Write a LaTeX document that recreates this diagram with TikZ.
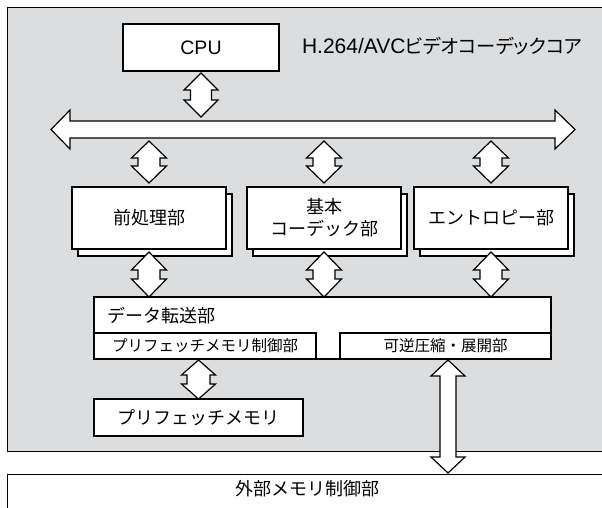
\documentclass[tikz,border=0pt]{standalone}
\usepackage{fontspec}
\setmainfont{Noto Sans CJK JP}
\newfontfamily\latinsans{Liberation Sans}
\newfontfamily\jpalt{Noto Sans CJK JP}[RawFeature=+palt]
\usetikzlibrary{shadows,calc}
\definecolor{panelgray}{RGB}{220,221,223}
\newcommand\vdarrow[6]{%
  \filldraw[arr] let \p1=(#1), \p2=(#2), \p3=(#3) in
   (\x1,\y2) -- (\x1+#5pt,\y2-#6pt) -- (\x1+#4pt,\y2-#6pt) -- (\x1+#4pt,\y3+#6pt)
   -- (\x1+#5pt,\y3+#6pt) -- (\x1,\y3) -- (\x1-#5pt,\y3+#6pt) -- (\x1-#4pt,\y3+#6pt)
   -- (\x1-#4pt,\y2-#6pt) -- (\x1-#5pt,\y2-#6pt) -- cycle;}
\begin{document}
\begin{tikzpicture}[x=1pt,y=-1pt,
  box/.style={draw=black, fill=white, line width=1.3pt, inner sep=0pt, outer sep=0pt,
    anchor=north west, align=center, font=\fontsize{18}{22}\selectfont},
  shadowbox/.style={box, copy shadow={shadow xshift=6pt, shadow yshift=-7pt}},
  subbox/.style={box, font=\fontsize{15.5}{18}\selectfont},
  arr/.style={draw=black, fill=white, line width=1.2pt, line join=miter},
  plain/.style={inner sep=0pt, outer sep=0pt, font=\fontsize{18}{22}\selectfont}
]
\useasboundingbox (0,0) rectangle (602,507);
% panel and external memory controller
\node[draw=black, fill=panelgray, line width=1.3pt, inner sep=0pt, anchor=north west,
  minimum width=620, minimum height=444] (panel) at (7,7) {};
\node[draw=black, fill=white, line width=1.3pt, inner sep=0pt, anchor=north west,
  minimum width=620, minimum height=60] (ext) at (7,474) {};
\node[plain] (extlabel) at (307,489) {外部メモリ制御部};
% CPU and title
\node[box, minimum width=156, minimum height=47, font=\latinsans\fontsize{19.5}{22}\selectfont] (cpu) at (123,24) {CPU};
\node[plain, anchor=base west] (title) at (302,53) {{\latinsans\fontsize{21}{22}\selectfont H.264/AVC}{\jpalt\fontsize{19.2}{22}\selectfont ビデオコーデックコア}};
% bus
\coordinate (busT) at (313,121);
\coordinate (busB) at (313,138);
\filldraw[arr] (51,129.5) -- (70,110) -- (70,121) -- (555,121) -- (555,110) -- (575,129.5)
  -- (555,149) -- (555,138) -- (70,138) -- (70,149) -- cycle;
% processing blocks
\node[shadowbox, minimum width=154, minimum height=62] (pre) at (72,187) {前処理部};
\node[shadowbox, minimum width=154, minimum height=62] (codec) at (247,187) {基本\\コーデック部};
\node[shadowbox, minimum width=154, minimum height=62] (ent) at (414,187) {エントロピー部};
% data transfer
\node[box, minimum width=457, minimum height=62] (dt) at (94,297) {};
\node[plain, anchor=west] (dtlabel) at (107,316) {データ転送部};
\node[subbox, minimum width=222, minimum height=26] (pfc) at (94,333) {プリフェッチメモリ制御部};
\node[subbox, minimum width=211, minimum height=26] (rev) at (340,333) {可逆圧縮・展開部};
\node[box, minimum width=209, minimum height=37] (pfm) at (94,399) {プリフェッチメモリ};
% arrows
\vdarrow{cpu.south}{$(cpu.south)+(0,2)$}{$(busT)+(0,-4)$}{10.5}{17}{17}
\vdarrow{pre.north}{$(busB)+(0,3)$}{$(pre.north)+(0,-4)$}{11}{17.5}{17}
\vdarrow{codec.north}{$(busB)+(0,3)$}{$(codec.north)+(0,-4)$}{11}{17.5}{17}
\vdarrow{ent.north}{$(busB)+(0,3)$}{$(ent.north)+(0,-4)$}{11}{17.5}{17}
\vdarrow{pre.south}{$(pre.south)+(0,3)$}{dt.north-|pre.south}{11}{17.5}{18}
\vdarrow{codec.south}{$(codec.south)+(0,3)$}{dt.north-|codec.south}{11}{17.5}{18}
\vdarrow{ent.south}{$(ent.south)+(0,3)$}{dt.north-|ent.south}{11}{17.5}{18}
\vdarrow{pfm.north}{$(pfc.south)+(0,1)$}{pfm.north}{11.5}{17}{15}
\vdarrow{$(rev.south)+(2.5,0)$}{$(rev.south)+(0,1)$}{$(ext.north)+(0,-1)$}{8}{17}{16}
\end{tikzpicture}
\end{document}
